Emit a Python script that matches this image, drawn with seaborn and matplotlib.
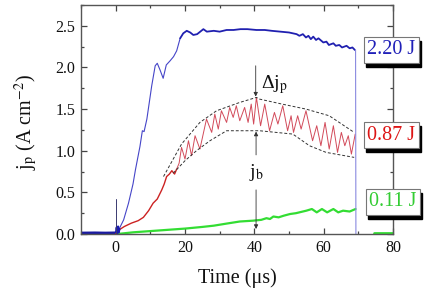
import matplotlib
matplotlib.use("Agg")
import matplotlib.pyplot as plt
import seaborn as sns
from matplotlib.ticker import MultipleLocator, FormatStrFormatter
from matplotlib.patches import Rectangle

# ---------------- data ----------------
blue_pre_t = [-10, -6, -3, 0]
blue_pre_y = [0.01, 0.012, 0.01, 0.012]
blue_noise_t = [0.1, 0.3, 0.5, 0.7, 0.9, 1.1]
blue_noise_y = [0.02, 0.08, 0.01, 0.09, 0.02, 0.06]
spike_t = [0.05, 0.05]
spike_y = [0.0, 0.42]

blue_rise_t = [0.3, 1.0, 2.3, 3.7, 5.0, 5.7, 7.0, 7.7, 8.2, 9.0, 10.4, 11.4,
               12.0, 12.8, 13.7, 14.6, 15.7, 16.7, 17.6, 18.6]
blue_rise_y = [0.02, 0.06, 0.17, 0.37, 0.60, 0.77, 1.05, 1.24, 1.23, 1.38, 1.78, 2.02,
               2.05, 1.97, 1.87, 2.03, 2.08, 2.13, 2.20, 2.35]

blue_top_t = [18.6, 19.5, 20.5, 21.5, 22.4, 23.5, 25.3, 26.3, 28.3, 30, 32, 34, 36, 38,
              40.6, 43, 45, 47.5, 50, 52.2, 53, 54, 54.9, 55.6, 56.3, 57, 57.8, 58.5,
              59.9, 60.8, 61.5, 62.8, 63.5, 64.5, 65.3, 66.6, 67.5, 68.3, 69.0]
blue_top_y = [2.35, 2.41, 2.44, 2.42, 2.39, 2.40, 2.46, 2.43, 2.44, 2.43, 2.45, 2.45, 2.46, 2.46,
              2.45, 2.45, 2.44, 2.43, 2.42, 2.40, 2.38, 2.40, 2.36, 2.38, 2.34, 2.37, 2.33, 2.35,
              2.30, 2.31, 2.27, 2.29, 2.26, 2.27, 2.24, 2.26, 2.23, 2.24, 2.21]
blue_drop_t = [69.2, 69.3]
blue_drop_y = [2.21, 0.0]

red_rise_t = [0.0, 1.0, 2.5, 4.5, 6.5, 8.0, 9.5, 10.8, 12.0, 13.3, 14.0, 14.7, 15.5,
              16.2, 17.0, 17.6]
red_rise_y = [0.0, 0.05, 0.09, 0.13, 0.16, 0.20, 0.28, 0.37, 0.42, 0.53, 0.60, 0.69, 0.72,
              0.76, 0.72, 0.78]

red_osc_t = [17.6, 18.3, 19.0, 20.0, 21.0, 21.9, 22.9, 24.3, 26.2, 27.7, 28.6, 29.6, 30.5,
             32.0, 32.9, 33.9, 34.8, 35.8, 37.2, 38.2, 39.1, 39.8, 40.6, 41.8, 43.0, 44.4,
             45.8, 46.8, 48.2, 49.6, 50.6, 51.3, 52.5, 53.5, 54.9, 56.8, 58.0, 59.2, 60.4,
             61.6, 62.8, 64.0, 65.1, 66.1, 67.1, 68.0, 69.1]
red_osc_y = [0.78, 0.85, 1.04, 0.90, 1.12, 0.94, 1.18, 1.02, 1.38, 1.22, 1.44, 1.26, 1.48,
             1.34, 1.52, 1.40, 1.54, 1.36, 1.52, 1.34, 1.56, 1.32, 1.64, 1.30, 1.56, 1.24,
             1.46, 1.32, 1.54, 1.24, 1.42, 1.22, 1.42, 1.26, 1.48, 1.12, 1.30, 1.06, 1.34,
             1.02, 1.30, 0.98, 1.22, 1.06, 1.18, 0.96, 1.20]

env_up_t = [13.8, 19.0, 24.3, 29.1, 35.8, 40.6, 41.5, 48, 54.9, 61.6, 68.8]
env_up_y = [0.69, 1.08, 1.34, 1.48, 1.58, 1.64, 1.62, 1.56, 1.50, 1.42, 1.22]
env_lo_t = [16.6, 20, 23.3, 27.2, 32.0, 36.7, 41.5, 51.1, 55.9, 60.7, 68.8]
env_lo_y = [0.73, 0.88, 1.00, 1.12, 1.24, 1.24, 1.24, 1.20, 1.06, 0.98, 0.92]

green_t = [0.5, 5, 10, 15, 20, 25, 28.3, 32, 35.8, 39.6, 42, 43.5, 44.5, 45.5, 47, 48.5,
           50.3, 52, 54, 55, 56.6, 58, 59.5, 61, 62.8, 64.2, 65.6, 67.5, 69.2]
green_y = [0.0, 0.02, 0.035, 0.05, 0.065, 0.085, 0.10, 0.125, 0.15, 0.16, 0.17, 0.19, 0.18,
           0.21, 0.20, 0.22, 0.24, 0.25, 0.27, 0.28, 0.30, 0.26, 0.30, 0.26, 0.30, 0.26,
           0.28, 0.27, 0.30]
green_tail_t = [74.5, 80]
green_tail_y = [0.01, 0.01]

labels = ["2.20 J", "0.87 J", "0.11 J"]
label_colors = ["#2020b8", "#dd1515", "#33cc33"]
xticks = [0, 20, 40, 60, 80]
yticks = [0.0, 0.5, 1.0, 1.5, 2.0, 2.5]

# ---------------- style ----------------
sns.set_theme(style="ticks")
plt.rcParams['font.family'] = ['Liberation Serif', 'DejaVu Serif']
plt.rcParams['mathtext.fontset'] = 'stix'

W, H = 427, 300
fig = plt.figure(figsize=(W / 100, H / 100), dpi=100)
ax = fig.add_axes([81 / W, 1 - 234 / H, (393 - 81) / W, (234 - 5) / H])


def line(t, y, **kw):
    sns.lineplot(x=t, y=y, ax=ax, estimator=None, sort=False, legend=False, **kw)


line(blue_pre_t, blue_pre_y, color="#1a1aa0", lw=2.2)
line(green_t, green_y, color="#33dd33", lw=1.6)
line(green_tail_t, green_tail_y, color="#33dd33", lw=2.0)
line(red_rise_t, red_rise_y, color="#cc2222", lw=1.0)
line(red_osc_t, red_osc_y, color="#d24a5a", lw=0.7)
line(env_up_t, env_up_y, color="#333333", lw=0.7, linestyle=(0, (3, 2)))
line(env_lo_t, env_lo_y, color="#333333", lw=0.7, linestyle=(0, (3, 2)))
line(blue_rise_t, blue_rise_y, color="#4545c8", lw=0.8)
line(blue_top_t, blue_top_y, color="#2020b0", lw=1.3)
line(blue_drop_t, blue_drop_y, color="#8a8ae0", lw=0.8)
line(blue_noise_t, blue_noise_y, color="#1a1ab0", lw=1.5)
line(spike_t, spike_y, color="#3a3a70", lw=0.7)

# arrows and annotation text
ap = dict(arrowstyle='-|>', color='#333333', lw=0.6, mutation_scale=6, shrinkA=0, shrinkB=0)
ax.annotate("", xy=(40.4, 1.65), xytext=(40.4, 2.02), arrowprops=ap)
ax.annotate("", xy=(40.5, 1.23), xytext=(40.5, 0.95), arrowprops=ap)
ax.annotate("", xy=(40.5, 0.06), xytext=(40.5, 0.53), arrowprops=ap)
ax.text(41.9, 1.80, "Δj$_\\mathrm{p}$", fontsize=14, ha='left', va='center', color='#111111')
ax.text(40.6, 0.74, "j$_\\mathrm{b}$", fontsize=14, ha='center', va='center', color='#111111')

ax.set_xlim(-10, 80)
ax.set_ylim(0, 2.75)
ax.xaxis.set_minor_locator(MultipleLocator(10))
ax.yaxis.set_minor_locator(MultipleLocator(0.25))
ax.set_xticks(xticks)
ax.set_yticks(yticks)
ax.yaxis.set_major_formatter(FormatStrFormatter('%.1f'))
ax.tick_params(which='both', direction='in', top=True, right=True, color='#444444',
               width=0.9, labelsize=11.5, labelcolor='#111111', pad=4)
ax.tick_params(which='major', length=4)
ax.tick_params(which='minor', length=2.3)
for s in ax.spines.values():
    s.set_color('#555555')
    s.set_linewidth(1.0)
ax.set_xlabel("")
ax.set_ylabel("")

fig.text(237 / W, 1 - 278 / H, "Time (μs)", ha='center', va='center', fontsize=14.5,
         color='#111111')
fig.text(26 / W, 1 - 122 / H, "j$_\\mathrm{p}$ (A cm$^{-2}$)", rotation=90, ha='center',
         va='center', fontsize=14.5, color='#111111')

# labelled boxes with a drop shadow (shadow drawn as a patch)
box_pos = [(391.5, 50), (391.5, 135), (393, 202)]
box_texts = []
for (px, py), lab, col in zip(box_pos, labels, label_colors):
    t = fig.text(px / W, 1 - py / H, lab, fontsize=14.5, ha='center', va='center', color=col,
                 zorder=6,
                 bbox=dict(boxstyle='square,pad=0.18', fc='white', ec='#777777', lw=0.8))
    box_texts.append(t)

fig.canvas.draw()
renderer = fig.canvas.get_renderer()
for t in box_texts:
    bb = t.get_bbox_patch().get_window_extent(renderer)
    x0, y0 = bb.x0 / W + 2 / W, bb.y0 / H - 4 / H
    fig.patches.append(Rectangle((x0, y0), bb.width / W, bb.height / H,
                                 transform=fig.transFigure, fc='black', ec='black',
                                 zorder=5, figure=fig))

fig.savefig("out.png", dpi=100)
